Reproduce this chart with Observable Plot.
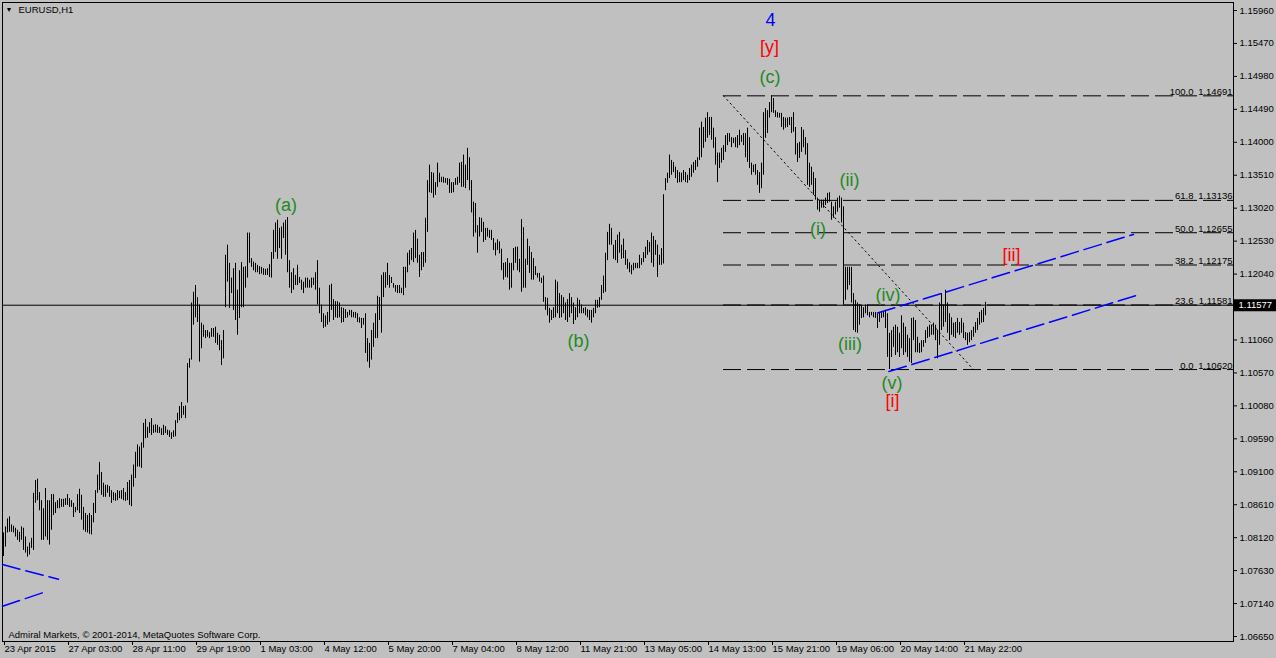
<!DOCTYPE html>
<html><head><meta charset="utf-8">
<script src="https://cdn.jsdelivr.net/npm/d3@7"></script>
<script src="https://cdn.jsdelivr.net/npm/@observablehq/plot@0.6"></script>
<style>html,body{margin:0;padding:0;background:#c0c0c0;overflow:hidden}</style>
</head><body><div id="chart"></div>
<script>
// EURUSD H1 bars, high / low in pips (price x 10000), bar index 0 = 23 Apr 2015 19:00
const highPips = [
10819,10828,10840,10843,10831,10829,10826,10823,10820,10828,
10826,10813,10798,10804,10811,10878,10897,10899,10879,10867,
10855,10885,10867,10867,10876,10876,10864,10867,10870,10869,
10869,10870,10876,10870,10867,10863,10857,10876,10884,10875,
10857,10848,10845,10848,10845,10863,10882,10905,10924,10909,
10893,10890,10890,10888,10882,10879,10878,10882,10881,10882,
10885,10879,10894,10897,10905,10920,10939,10950,10947,10953,
10982,10988,10976,10983,10989,10979,10980,10979,10976,10974,
10979,10977,10972,10971,10968,10971,10986,10997,11007,11013,
11007,11008,11071,11078,11161,11177,11187,11169,11158,11131,
11128,11120,11120,11117,11123,11123,11125,11116,11113,11105,
11120,11232,11247,11220,11198,11212,11220,11180,11209,11221,
11214,11215,11265,11265,11227,11222,11220,11217,11215,11214,
11212,11211,11212,11218,11236,11269,11280,11284,11272,11274,
11280,11284,11288,11224,11206,11212,11202,11217,11199,11195,
11192,11198,11198,11195,11198,11198,11206,11224,11183,11158,
11145,11142,11147,11187,11189,11166,11163,11163,11161,11154,
11153,11151,11147,11150,11150,11147,11147,11145,11139,11138,
11138,11145,11108,11101,11120,11131,11145,11171,11169,11202,
11206,11206,11220,11202,11199,11190,11187,11187,11187,11183,
11214,11214,11235,11239,11242,11265,11269,11256,11232,11236,
11236,11287,11343,11366,11355,11354,11340,11369,11354,11348,
11348,11346,11346,11345,11340,11340,11346,11348,11369,11370,
11381,11366,11391,11377,11343,11311,11309,11276,11288,11287,
11281,11272,11272,11269,11269,11257,11250,11255,11252,11241,
11220,11221,11227,11220,11220,11242,11244,11244,11226,11285,
11273,11226,11256,11245,11236,11227,11215,11205,11205,11198,
11201,11169,11168,11153,11150,11154,11195,11192,11175,11172,
11169,11161,11166,11175,11169,11161,11154,11168,11165,11158,
11153,11154,11151,11150,11150,11153,11165,11165,11169,11187,
11201,11235,11266,11278,11272,11247,11254,11262,11266,11247,
11256,11239,11226,11221,11217,11220,11220,11220,11232,11227,
11236,11244,11254,11251,11265,11260,11254,11247,11232,11242,
11322,11346,11354,11381,11373,11370,11363,11358,11355,11354,
11358,11355,11351,11361,11366,11370,11373,11377,11421,11430,
11422,11436,11444,11437,11437,11421,11407,11384,11384,11391,
11395,11410,11413,11413,11407,11406,11407,11410,11418,11410,
11413,11413,11421,11407,11369,11366,11367,11358,11355,11369,
11444,11450,11447,11459,11469,11465,11447,11444,11443,11443,
11437,11436,11436,11437,11437,11444,11422,11398,11400,11422,
11418,11407,11398,11369,11363,11355,11346,11317,11314,11314,
11314,11317,11324,11325,11311,11304,11311,11317,11320,11317,
11304,11214,11214,11214,11214,11175,11165,11161,11158,11158,
11154,11158,11158,11147,11147,11147,11147,11145,11147,11147,
11147,11150,11145,11116,11120,11125,11128,11125,11116,11142,
11131,11125,11113,11108,11138,11139,11135,11110,11101,11105,
11105,11120,11125,11128,11128,11131,11128,11120,11161,11175,
11158,11180,11161,11145,11139,11131,11132,11138,11132,11138,
11131,11117,11116,11117,11120,11125,11132,11138,11147,11150,
11153,11162
];
const lowPips = [
10784,10798,10819,10820,10820,10819,10813,10808,10805,10808,
10793,10789,10783,10786,10796,10793,10863,10867,10852,10808,
10808,10813,10808,10801,10823,10845,10848,10855,10855,10857,
10857,10860,10860,10857,10857,10842,10849,10852,10848,10838,
10823,10820,10819,10817,10816,10834,10848,10878,10882,10875,
10872,10872,10878,10872,10863,10867,10866,10867,10870,10869,
10867,10866,10867,10860,10858,10887,10900,10917,10917,10915,
10945,10959,10960,10967,10964,10967,10968,10967,10967,10964,
10964,10967,10964,10961,10958,10961,10962,10982,10986,10989,
10994,10989,11012,11064,11076,11128,11139,11132,11073,11093,
11110,11108,11110,11108,11110,11110,11101,11098,11090,11068,
11078,11154,11192,11153,11175,11150,11135,11113,11138,11154,
11154,11183,11198,11220,11214,11209,11206,11206,11203,11204,
11202,11202,11202,11199,11198,11226,11236,11226,11242,11226,
11257,11232,11206,11183,11175,11180,11187,11187,11190,11180,
11175,11183,11183,11183,11183,11187,11180,11158,11145,11132,
11123,11125,11128,11132,11150,11135,11139,11138,11139,11131,
11132,11138,11139,11142,11139,11139,11138,11132,11131,11123,
11128,11086,11073,11064,11076,11095,11108,11108,11135,11116,
11169,11183,11187,11183,11190,11183,11177,11175,11175,11175,
11172,11183,11206,11217,11224,11221,11227,11220,11199,11209,
11214,11220,11266,11325,11324,11317,11321,11333,11340,11340,
11339,11339,11336,11324,11324,11325,11336,11336,11339,11333,
11333,11331,11343,11328,11295,11259,11265,11235,11259,11266,
11251,11254,11259,11257,11254,11239,11231,11239,11234,11209,
11195,11199,11198,11180,11183,11209,11220,11209,11206,11177,
11183,11183,11217,11205,11195,11195,11202,11198,11192,11190,
11162,11150,11142,11131,11135,11138,11139,11145,11138,11139,
11145,11135,11132,11139,11145,11129,11135,11139,11145,11145,
11145,11142,11139,11135,11131,11139,11145,11153,11154,11165,
11175,11177,11224,11247,11247,11226,11224,11220,11235,11226,
11227,11217,11211,11206,11203,11209,11212,11212,11212,11217,
11221,11227,11232,11236,11220,11214,11232,11199,11217,11217,
11219,11328,11339,11346,11351,11355,11346,11339,11340,11340,
11343,11340,11339,11343,11348,11354,11358,11363,11373,11377,
11391,11400,11406,11410,11403,11391,11366,11340,11361,11369,
11373,11385,11395,11400,11392,11398,11392,11391,11395,11400,
11395,11377,11370,11361,11351,11355,11351,11336,11324,11331,
11351,11406,11413,11436,11444,11443,11437,11436,11436,11422,
11418,11421,11422,11425,11413,11415,11381,11370,11376,11385,
11392,11381,11336,11333,11336,11321,11314,11299,11296,11302,
11302,11306,11309,11311,11284,11287,11292,11296,11302,11280,
11158,11165,11180,11187,11161,11120,11117,11116,11128,11138,
11139,11145,11142,11139,11142,11139,11138,11123,11132,11138,
11139,11123,11080,11062,11080,11095,11083,11087,11080,11093,
11083,11087,11080,11073,11071,11105,11087,11087,11086,11087,
11095,11101,11108,11110,11113,11113,11105,11078,11098,11120,
11125,11132,11116,11105,11113,11110,11108,11116,11113,11116,
11108,11105,11098,11102,11105,11110,11116,11120,11128,11131,
11132,11142
];
const bidPrice = 1.11577;

// axis ticks
const xTickIdx = [0,32,64,96,128,160,192,224,256,288,320,352,384,416,448,480];
const xTickLabels = ["23 Apr 2015","27 Apr 03:00","28 Apr 11:00","29 Apr 19:00","1 May 03:00","4 May 12:00","5 May 20:00","7 May 04:00","8 May 12:00","11 May 21:00","13 May 05:00","14 May 13:00","15 May 21:00","19 May 06:00","20 May 14:00","21 May 22:00"];
const yTicks = [1.15960,1.15470,1.14980,1.14490,1.14000,1.13510,1.13020,1.12530,1.12040,1.11550,1.11060,1.10570,1.10080,1.09590,1.09100,1.08610,1.08120,1.07630,1.07140,1.06650];

// Fibonacci retracement (anchors: bar 360 @ 1.14691 -> bar 485 @ 1.10620)
const fibPct = ["100.0","61.8","50.0","38.2","23.6","0.0"];
const fibPrice = [1.14691,1.13136,1.12655,1.12175,1.11581,1.10620];
const fibAnchorIdx = [360,485];
const fibAnchorPrice = [1.14691,1.10620];

// blue dashed trend lines: [id, bar index, price]
const trendIds = ["up","up","low","low","a","a","b","b"];
const trendIdx = [437,565,442.7,568.5,-0.5,27.5,-0.5,20.5];
const trendPrice = [1.1146,1.1263,1.1059,1.1174,1.0772,1.0750,1.0710,1.0731];

// wave labels
const waveText = ["4","[y]","(c)","(a)","(b)","(i)","(ii)","(iii)","(iv)","(v)","[i]","[ii]"];
const waveIdx = [383.5,383,383.3,141.2,287.5,407.3,423,423.2,442.2,444.2,444.5,504];
const wavePrice = [1.1581,1.1542,1.1497,1.1306,1.1104,1.1270,1.1343,1.1100,1.1172,1.1041,1.1015,1.1232];
const waveColor = ["#0000ff","#ff0000","#1f8a1f","#1f8a1f","#1f8a1f","#1f8a1f","#1f8a1f","#1f8a1f","#1f8a1f","#1f8a1f","#ff0000","#ff0000"];

const xDomain = [-0.5, 615];
const yDomain = [1.065757, 1.16079];

const bars = highPips.map((h, i) => ({i, high: h / 1e4, low: lowPips[i] / 1e4}));
const fib = fibPct.map((p, k) => ({pct: p, price: fibPrice[k]}));
const fibDiag = fibAnchorIdx.map((x, k) => ({i: x, price: fibAnchorPrice[k]}));
const trends = trendIds.map((id, k) => ({id, i: trendIdx[k], price: trendPrice[k]}));
const waves = waveText.map((t, k) => ({t, i: waveIdx[k], price: wavePrice[k], c: waveColor[k]}));
const xLabelMap = new Map(xTickIdx.map((d, k) => [d, xTickLabels[k]]));

const font = "'Liberation Sans', Arial, sans-serif";
const fs = 9.5;

const chart = Plot.plot({
  width: 1276, height: 658,
  marginLeft: 2, marginRight: 43, marginTop: 2, marginBottom: 17,
  style: {background: "#c0c0c0", color: "black", fontFamily: font, fontSize: fs + "px"},
  x: {type: "linear", domain: xDomain, axis: null},
  y: {type: "linear", domain: yDomain, axis: null},
  marks: [
    Plot.frame({stroke: "black"}),
    Plot.ruleY(fib, {y: "price", x1: fibAnchorIdx[0], x2: xDomain[1], stroke: "black", strokeDasharray: "18,6"}),
    Plot.line(fibDiag, {x: "i", y: "price", stroke: "black", strokeWidth: 1, strokeDasharray: "1.5,3.5"}),
    Plot.ruleY([bidPrice], {stroke: "black"}),
    Plot.ruleX(bars, {x: "i", y1: "low", y2: "high", stroke: "black", strokeWidth: 1}),
    Plot.line(trends, {x: "i", y: "price", z: "id", stroke: "#0000ff", strokeDasharray: "18,6"}),
    Plot.text(fib, {x: xDomain[1], y: "price", text: "pct", textAnchor: "end", lineAnchor: "bottom", dx: -40, dy: -1, fontSize: fs}),
    Plot.text(fib, {x: xDomain[1], y: "price", text: d => d.price.toFixed(5), textAnchor: "end", lineAnchor: "bottom", dx: -1, dy: -1, fontSize: fs}),
    Plot.text(waves, {x: "i", y: "price", text: "t", fill: "c", fontSize: 18}),
    Plot.axisY(yTicks, {anchor: "right", label: null, tickSize: 3, tickPadding: 3, tickFormat: d => d.toFixed(5), fontSize: fs}),
    Plot.axisX(xTickIdx, {anchor: "bottom", label: null, tickSize: 4, tickPadding: 0, tickFormat: d => xLabelMap.get(d), textAnchor: "start", dx: 1, fontSize: fs}),
    Plot.ruleY([bidPrice], {x1: xDomain[1], x2: xDomain[1] + 21.5, dx: 1, stroke: "black", strokeWidth: 12}),
    Plot.text([bidPrice], {x: xDomain[1], y: d => d, text: d => d.toFixed(5), dx: 5, textAnchor: "start", fill: "white", fontSize: fs}),
    Plot.text(["\u25BC"], {frameAnchor: "top-left", dx: 3, dy: 5, lineAnchor: "top", textAnchor: "start", fontSize: 7}),
    Plot.text(["EURUSD,H1"], {frameAnchor: "top-left", dx: 16, dy: 4, lineAnchor: "top", textAnchor: "start", fontSize: fs}),
    Plot.text(["Admiral Markets, \u00A9 2001-2014, MetaQuotes Software Corp."], {frameAnchor: "bottom-left", dx: 6, dy: -4, lineAnchor: "bottom", textAnchor: "start", fontSize: fs})
  ]
});
document.getElementById("chart").appendChild(chart);
</script></body></html>
